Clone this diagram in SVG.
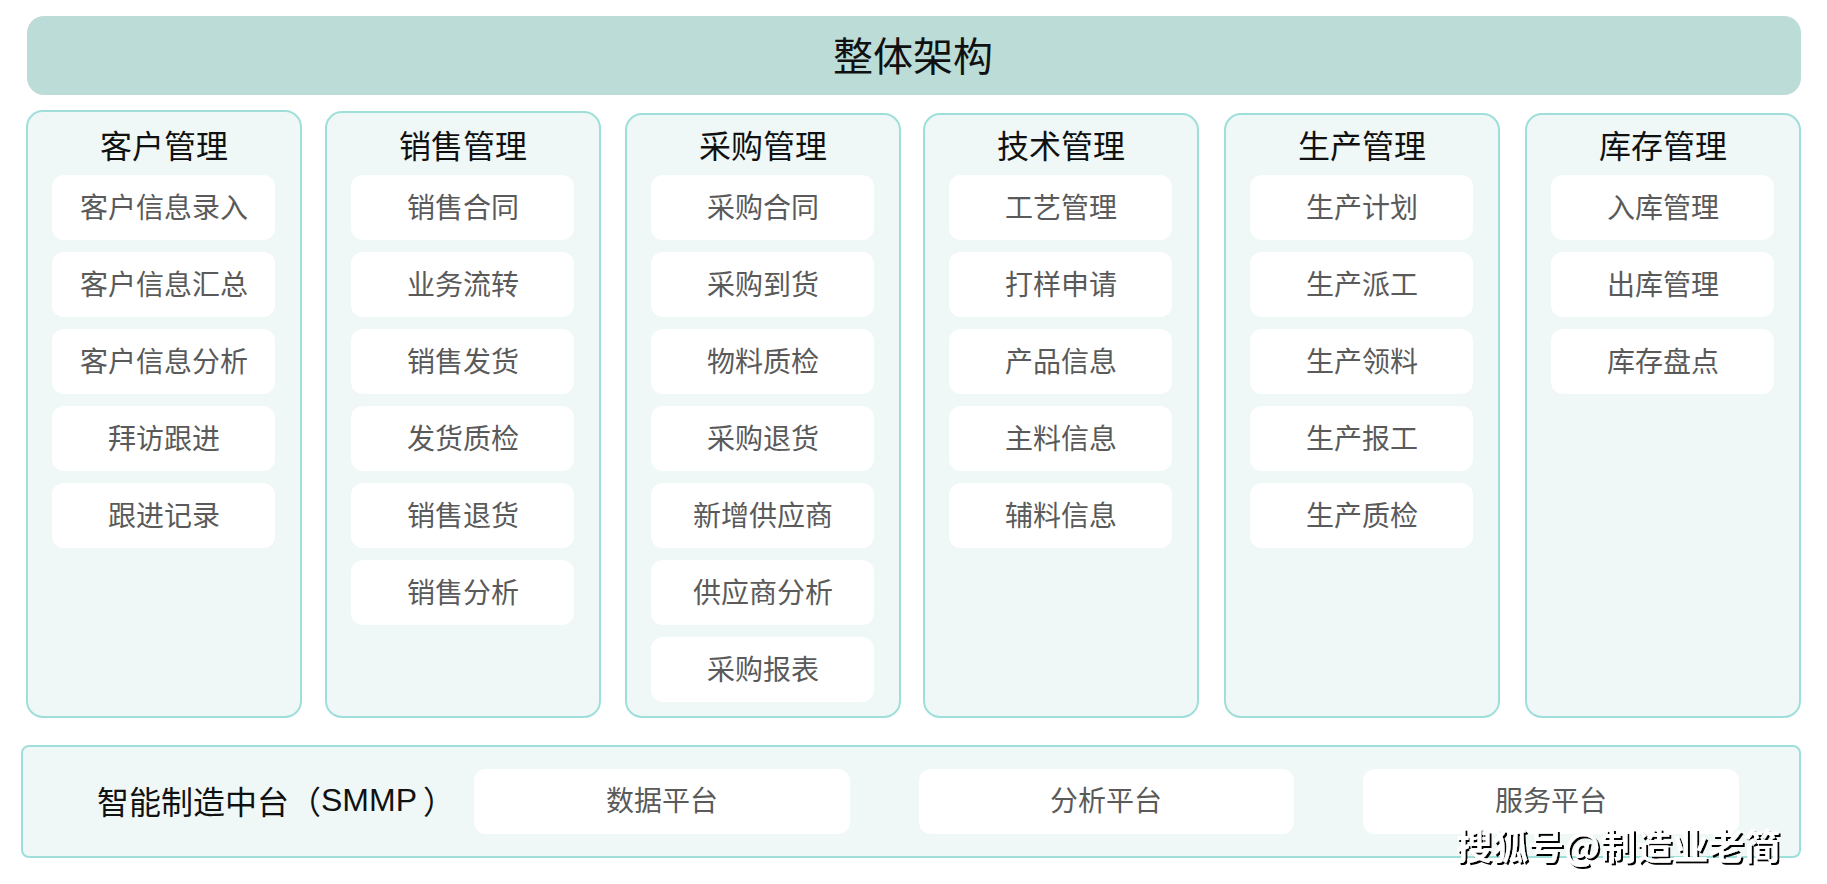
<svg xmlns="http://www.w3.org/2000/svg" width="1827" height="884" viewBox="0 0 1827 884">
<defs>
<style>
.cjk{font-family:"Noto Sans CJK SC","Noto Sans",sans-serif;}
.lat{font-family:"Liberation Sans","Noto Sans CJK SC",sans-serif;}
.col{fill:#EFF8F7;stroke:#9FDFDA;stroke-width:2;}
.item{fill:#FFFFFF;}
.hd{font-size:32px;fill:#111111;text-anchor:middle;dominant-baseline:central;}
.it{font-size:28px;fill:#5A5A5A;text-anchor:middle;dominant-baseline:central;}
</style>
<filter id="sh" x="-5%" y="-20%" width="110%" height="150%">
<feDropShadow dx="2" dy="2" stdDeviation="0.7" flood-color="#000000" flood-opacity="1"/>
</filter>
</defs>
<rect width="1827" height="884" fill="#FFFFFF"/>

<g id="title">
<rect x="27" y="16" width="1774" height="79" rx="17" fill="#BCDCD7"/>
<text class="cjk" x="913" y="54" font-size="40" fill="#111111" text-anchor="middle" dominant-baseline="central">整体架构</text>
</g>

<g id="col-customer">
<rect class="col" x="27" y="111" width="274" height="606" rx="16"/>
<text class="cjk hd" x="164" y="144">客户管理</text>
<rect class="item" x="52" y="175" width="223" height="65" rx="12"/><text class="cjk it" x="164" y="205.5">客户信息录入</text>
<rect class="item" x="52" y="252" width="223" height="65" rx="12"/><text class="cjk it" x="164" y="282.5">客户信息汇总</text>
<rect class="item" x="52" y="329" width="223" height="65" rx="12"/><text class="cjk it" x="164" y="359.5">客户信息分析</text>
<rect class="item" x="52" y="406" width="223" height="65" rx="12"/><text class="cjk it" x="164" y="436.5">拜访跟进</text>
<rect class="item" x="52" y="483" width="223" height="65" rx="12"/><text class="cjk it" x="164" y="513.5">跟进记录</text>
</g>

<g id="col-sales">
<rect class="col" x="326" y="112" width="274" height="605" rx="16"/>
<text class="cjk hd" x="463" y="144">销售管理</text>
<rect class="item" x="351" y="175" width="223" height="65" rx="12"/><text class="cjk it" x="463" y="205.5">销售合同</text>
<rect class="item" x="351" y="252" width="223" height="65" rx="12"/><text class="cjk it" x="463" y="282.5">业务流转</text>
<rect class="item" x="351" y="329" width="223" height="65" rx="12"/><text class="cjk it" x="463" y="359.5">销售发货</text>
<rect class="item" x="351" y="406" width="223" height="65" rx="12"/><text class="cjk it" x="463" y="436.5">发货质检</text>
<rect class="item" x="351" y="483" width="223" height="65" rx="12"/><text class="cjk it" x="463" y="513.5">销售退货</text>
<rect class="item" x="351" y="560" width="223" height="65" rx="12"/><text class="cjk it" x="463" y="590.5">销售分析</text>
</g>

<g id="col-purchase">
<rect class="col" x="626" y="114" width="274" height="603" rx="16"/>
<text class="cjk hd" x="763" y="144">采购管理</text>
<rect class="item" x="651" y="175" width="223" height="65" rx="12"/><text class="cjk it" x="763" y="205.5">采购合同</text>
<rect class="item" x="651" y="252" width="223" height="65" rx="12"/><text class="cjk it" x="763" y="282.5">采购到货</text>
<rect class="item" x="651" y="329" width="223" height="65" rx="12"/><text class="cjk it" x="763" y="359.5">物料质检</text>
<rect class="item" x="651" y="406" width="223" height="65" rx="12"/><text class="cjk it" x="763" y="436.5">采购退货</text>
<rect class="item" x="651" y="483" width="223" height="65" rx="12"/><text class="cjk it" x="763" y="513.5">新增供应商</text>
<rect class="item" x="651" y="560" width="223" height="65" rx="12"/><text class="cjk it" x="763" y="590.5">供应商分析</text>
<rect class="item" x="651" y="637" width="223" height="65" rx="12"/><text class="cjk it" x="763" y="667.5">采购报表</text>
</g>

<g id="col-tech">
<rect class="col" x="924" y="114" width="274" height="603" rx="16"/>
<text class="cjk hd" x="1061" y="144">技术管理</text>
<rect class="item" x="949" y="175" width="223" height="65" rx="12"/><text class="cjk it" x="1061" y="205.5">工艺管理</text>
<rect class="item" x="949" y="252" width="223" height="65" rx="12"/><text class="cjk it" x="1061" y="282.5">打样申请</text>
<rect class="item" x="949" y="329" width="223" height="65" rx="12"/><text class="cjk it" x="1061" y="359.5">产品信息</text>
<rect class="item" x="949" y="406" width="223" height="65" rx="12"/><text class="cjk it" x="1061" y="436.5">主料信息</text>
<rect class="item" x="949" y="483" width="223" height="65" rx="12"/><text class="cjk it" x="1061" y="513.5">辅料信息</text>
</g>

<g id="col-production">
<rect class="col" x="1225" y="114" width="274" height="603" rx="16"/>
<text class="cjk hd" x="1362" y="144">生产管理</text>
<rect class="item" x="1250" y="175" width="223" height="65" rx="12"/><text class="cjk it" x="1362" y="205.5">生产计划</text>
<rect class="item" x="1250" y="252" width="223" height="65" rx="12"/><text class="cjk it" x="1362" y="282.5">生产派工</text>
<rect class="item" x="1250" y="329" width="223" height="65" rx="12"/><text class="cjk it" x="1362" y="359.5">生产领料</text>
<rect class="item" x="1250" y="406" width="223" height="65" rx="12"/><text class="cjk it" x="1362" y="436.5">生产报工</text>
<rect class="item" x="1250" y="483" width="223" height="65" rx="12"/><text class="cjk it" x="1362" y="513.5">生产质检</text>
</g>

<g id="col-inventory">
<rect class="col" x="1526" y="114" width="274" height="603" rx="16"/>
<text class="cjk hd" x="1663" y="144">库存管理</text>
<rect class="item" x="1551" y="175" width="223" height="65" rx="12"/><text class="cjk it" x="1663" y="205.5">入库管理</text>
<rect class="item" x="1551" y="252" width="223" height="65" rx="12"/><text class="cjk it" x="1663" y="282.5">出库管理</text>
<rect class="item" x="1551" y="329" width="223" height="65" rx="12"/><text class="cjk it" x="1663" y="359.5">库存盘点</text>
</g>

<g id="smmp">
<rect class="col" x="22" y="746" width="1778" height="111" rx="7"/>
<text class="cjk" x="97" y="800" font-size="32" fill="#111111" dominant-baseline="central">智能制造中台（<tspan class="lat">SMMP</tspan><tspan dx="6">）</tspan></text>
<rect class="item" x="474" y="769" width="376" height="65" rx="12"/><text class="cjk it" x="662" y="799">数据平台</text>
<rect class="item" x="919" y="769" width="375" height="65" rx="12"/><text class="cjk it" x="1106" y="799">分析平台</text>
<rect class="item" x="1363" y="769" width="376" height="65" rx="12"/><text class="cjk it" x="1551" y="799">服务平台</text>
</g>

<g id="connectors"></g>

<g id="watermark">
<text class="cjk" x="1456" y="844" font-size="36" font-weight="bold" fill="#FFFFFF" dominant-baseline="central" filter="url(#sh)">搜狐号@制造业老简</text>
</g>
</svg>
